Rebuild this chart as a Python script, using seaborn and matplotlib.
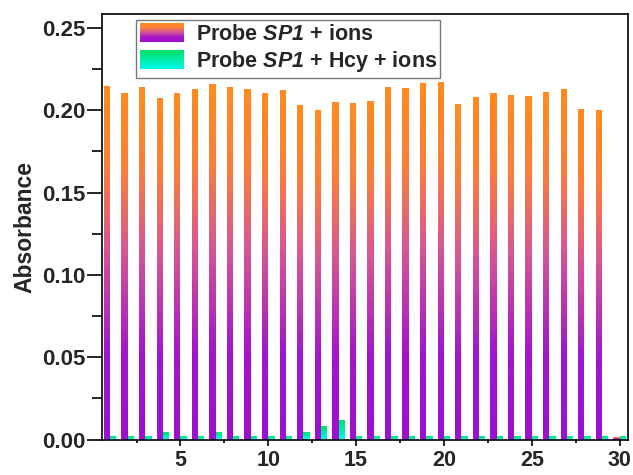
import numpy as np
import pandas as pd
import matplotlib
matplotlib.use("Agg")
import matplotlib.pyplot as plt
import seaborn as sns
from matplotlib.colors import LinearSegmentedColormap
from matplotlib.patches import Rectangle
from matplotlib.legend_handler import HandlerBase
from matplotlib.ticker import MultipleLocator, FormatStrFormatter

# ---- data ----
samples = list(range(1, 31))
probe_ions = [0.2147, 0.2104, 0.2139, 0.2074, 0.2106, 0.2132, 0.2161, 0.2139, 0.2131, 0.2104,
              0.2126, 0.2032, 0.1999, 0.2052, 0.2044, 0.2056, 0.2141, 0.2135, 0.2163, 0.2175,
              0.2038, 0.2078, 0.2108, 0.2090, 0.2084, 0.2111, 0.2132, 0.2007, 0.2001, 0.0015]
probe_hcy_ions = [0.0020, 0.0020, 0.0020, 0.0045, 0.0020, 0.0020, 0.0045, 0.0020, 0.0020, 0.0020,
                  0.0020, 0.0045, 0.0080, 0.0120, 0.0020, 0.0020, 0.0020, 0.0020, 0.0020, 0.0020,
                  0.0020, 0.0020, 0.0020, 0.0020, 0.0020, 0.0020, 0.0020, 0.0020, 0.0020, 0.0020]
series_names = ["Probe SP1 + ions", "Probe SP1 + Hcy + ions"]
legend_labels = [r"Probe $\mathbfit{SP1}$ + ions", r"Probe $\mathbfit{SP1}$ + Hcy + ions"]
x_ticks = [5, 10, 15, 20, 25, 30]

df = pd.DataFrame({
    "sample": samples * 2,
    "absorbance": probe_ions + probe_hcy_ions,
    "series": [series_names[0]] * 30 + [series_names[1]] * 30,
})

# ---- style ----
sns.set_style("ticks")
plt.rcParams["font.family"] = ["Liberation Sans", "DejaVu Sans"]
plt.rcParams["font.weight"] = "bold"
plt.rcParams["mathtext.fontset"] = "custom"
plt.rcParams["mathtext.rm"] = "Liberation Sans:bold"
plt.rcParams["mathtext.bf"] = "Liberation Sans:bold"
plt.rcParams["mathtext.it"] = "Liberation Sans:bold:italic"
plt.rcParams["mathtext.bfit"] = "Liberation Sans:bold:italic"

cmap_orange = LinearSegmentedColormap.from_list(
    "op", [(0.0, "#9C10CE"), (0.25, "#A216CA"), (0.55, "#D65890"), (0.78, "#FA7F3A"), (1.0, "#FF8A1E")])
cmap_green = LinearSegmentedColormap.from_list(
    "gc", [(0.0, "#00F8F0"), (1.0, "#00E066")])
cmaps = [cmap_orange, cmap_green]

fig = plt.figure(figsize=(6.33, 4.75), dpi=100)
ax = fig.add_axes([0.1607, 0.0747, 0.832, 0.8958])

sns.barplot(data=df, x="sample", y="absorbance", hue="series", hue_order=series_names,
            native_scale=True, width=0.72, errorbar=None, legend=False,
            palette=["#FF8A1E", "#00E066"], ax=ax, linewidth=0, saturation=1)

# gradient fill: stack thin slices inside each seaborn bar
N_STRIPS = 60
for cont, cm in zip(ax.containers, cmaps):
    xs = np.array([p.get_x() for p in cont])
    ws = np.array([p.get_width() for p in cont])
    hs = np.array([p.get_height() for p in cont])
    for p in cont:
        p.set_visible(False)
    for k in range(N_STRIPS):
        ax.bar(xs, hs / N_STRIPS, bottom=hs * k / N_STRIPS, width=ws, align="edge",
               color=cm((k + 0.5) / N_STRIPS), linewidth=0, antialiased=False, zorder=2)

ax.set_xlim(0.52, 30.5)
ax.set_ylim(0, 0.2585)

ax.xaxis.set_major_locator(matplotlib.ticker.FixedLocator(x_ticks))
ax.xaxis.set_minor_locator(MultipleLocator(2.5))
ax.yaxis.set_major_locator(MultipleLocator(0.05))
ax.yaxis.set_minor_locator(MultipleLocator(0.025))
ax.yaxis.set_major_formatter(FormatStrFormatter("%.2f"))
ax.set_xticklabels([str(t) for t in x_ticks])

ax.tick_params(axis="x", which="major", direction="out", length=4.3, width=1.2,
               labelsize=15.5, color="black", pad=3)
ax.tick_params(axis="x", which="minor", direction="out", length=2.5, width=1.2, color="black")
ax.tick_params(axis="y", which="major", direction="out", length=10.5, width=1.2,
               labelsize=16, color="black", pad=1.5)
ax.tick_params(axis="y", which="minor", direction="out", length=7, width=1.2, color="black")
for lab in ax.get_xticklabels() + ax.get_yticklabels():
    lab.set_fontweight("bold")

for s in ["top", "right", "left", "bottom"]:
    ax.spines[s].set_visible(True)
    ax.spines[s].set_linewidth(1.2)
    ax.spines[s].set_color("black")
    ax.spines[s].set_zorder(4)

ax.set_xlabel("")
ax.set_ylabel("Absorbance", fontsize=16.5, fontweight="bold", labelpad=4)


class GradientHandler(HandlerBase):
    def __init__(self, cmap, n=30):
        super().__init__()
        self.cmap = cmap
        self.n = n

    def create_artists(self, legend, orig_handle, xdescent, ydescent, width, height, fontsize, trans):
        arts = []
        for i in range(self.n):
            c = self.cmap((i + 0.5) / self.n)
            r = Rectangle((-xdescent, -ydescent + height * i / self.n), width, height / self.n + 0.3,
                          facecolor=c, edgecolor="none", transform=trans)
            arts.append(r)
        return arts


h1 = Rectangle((0, 0), 1, 1)
h2 = Rectangle((0, 0), 1, 1)
leg = ax.legend([h1, h2], legend_labels, loc="upper left", bbox_to_anchor=(0.066, 0.986),
                handler_map={h1: GradientHandler(cmap_orange), h2: GradientHandler(cmap_green)},
                fontsize=15.5, handlelength=2.05, handleheight=0.98, labelspacing=0.2,
                handletextpad=0.55, borderpad=0.15, borderaxespad=0, fancybox=False,
                framealpha=1, edgecolor="#777777", frameon=True)
leg.get_frame().set_linewidth(1.0)
leg.set_zorder(5)
for t in leg.get_texts():
    t.set_fontweight("bold")

fig.savefig("out.png", dpi=100)
